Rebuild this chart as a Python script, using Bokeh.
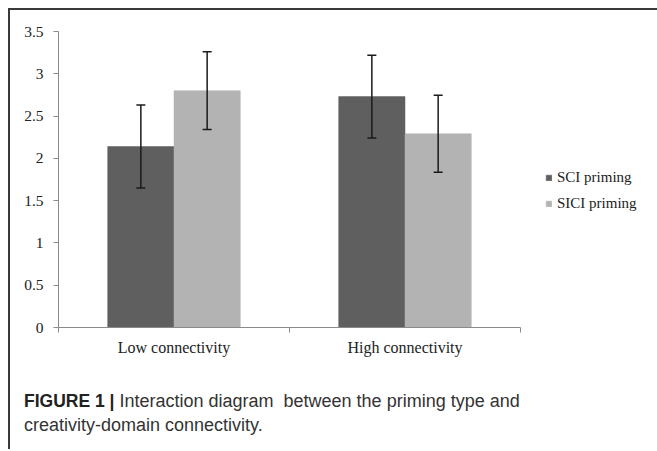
from bokeh.plotting import figure
from bokeh.models import (Range1d, FixedTicker, Whisker, TeeHead, ColumnDataSource,
                          Legend, LegendItem, Div)
from bokeh.layouts import column
from bokeh.embed import file_html
from bokeh.resources import INLINE

categories = ["Low connectivity", "High connectivity"]
series = ["SCI priming", "SICI priming"]
sci_mean = [2.14, 2.73]
sci_err = [0.49, 0.49]
sici_mean = [2.80, 2.29]
sici_err = [0.46, 0.455]
y_ticks = [0, 0.5, 1, 1.5, 2, 2.5, 3, 3.5]
y_tick_labels = ["0", "0.5", "1", "1.5", "2", "2.5", "3", "3.5"]
colors = ["#5f5f5f", "#b3b3b3"]
caption_bold = "FIGURE 1 |"
caption_line1 = "Interaction diagram&nbsp; between the priming type and"
caption_line2 = "creativity-domain connectivity."

FW, FH = 462, 296
p = figure(frame_width=FW, frame_height=FH, output_backend="svg", toolbar_location=None,
           x_range=Range1d(0, len(categories)), y_range=Range1d(0, 3.5),
           min_border_left=48, min_border_top=21, min_border_bottom=62,
           min_border_right=137)
p.outline_line_color = None
p.grid.visible = False
p.background_fill_color = "white"
p.border_fill_color = "white"

bw = 0.287
off = bw / 2
centers = list(range(len(categories)))
renderers = []
for s, (means, errs, dx) in enumerate([(sci_mean, sci_err, -off), (sici_mean, sici_err, off)]):
    xs = [c + 0.5 + dx for c in centers]
    src = ColumnDataSource(dict(x=xs, top=means,
                                upper=[m + e for m, e in zip(means, errs)],
                                lower=[m - e for m, e in zip(means, errs)]))
    r = p.vbar(x="x", top="top", bottom=0, width=bw, source=src,
               fill_color=colors[s], line_color=colors[s], line_width=0.5)
    renderers.append(r)
    wh = Whisker(source=src, base="x", upper="upper", lower="lower",
                 line_color="#1a1a1a", line_width=1.5, level="overlay",
                 upper_head=TeeHead(size=9, line_color="#1a1a1a", line_width=1.5),
                 lower_head=TeeHead(size=9, line_color="#1a1a1a", line_width=1.5))
    p.add_layout(wh)

ax_color = "#8a8a8a"
serif = "Liberation Serif"
p.yaxis.ticker = FixedTicker(ticks=y_ticks)
p.yaxis.major_label_overrides = {t: l for t, l in zip(y_ticks, y_tick_labels)}
p.yaxis.axis_line_color = ax_color
p.yaxis.major_tick_line_color = ax_color
p.yaxis.major_tick_out = 5
p.yaxis.major_tick_in = 0
p.yaxis.minor_tick_line_color = None
p.yaxis.major_label_text_font = serif
p.yaxis.major_label_text_font_size = "15.5px"
p.yaxis.major_label_text_color = "#222222"
p.yaxis.major_label_standoff = 10

p.xaxis.ticker = FixedTicker(ticks=[c + 0.5 for c in centers],
                             minor_ticks=list(range(len(categories) + 1)))
p.xaxis.major_label_overrides = {c + 0.5: cat for c, cat in zip(centers, categories)}
p.xaxis.axis_line_color = ax_color
p.xaxis.major_tick_line_color = None
p.xaxis.major_tick_out = 0
p.xaxis.major_tick_in = 0
p.xaxis.minor_tick_line_color = ax_color
p.xaxis.minor_tick_out = 5
p.xaxis.minor_tick_in = 0
p.xaxis.major_label_text_font = serif
p.xaxis.major_label_text_font_size = "16px"
p.xaxis.major_label_text_color = "#222222"
p.xaxis.major_label_standoff = 6

legend = Legend(items=[LegendItem(label=series[i], renderers=[renderers[i]]) for i in range(2)],
                location=(25, 115), orientation="vertical")
legend.label_text_font = serif
legend.label_text_font_size = "15px"
legend.label_text_color = "#222222"
legend.glyph_width = 7
legend.glyph_height = 7
legend.label_height = 16
legend.label_standoff = 5
legend.spacing = 9
legend.padding = 0
legend.margin = 0
legend.border_line_color = None
legend.background_fill_alpha = 0
p.add_layout(legend, "right")

caption = Div(
    text=('<div style="font-family: \'Liberation Sans\', Arial, sans-serif; font-size: 18px; '
          'line-height: 24px; color: #333; padding-left: 14px; white-space: nowrap;">'
          f'<b style="color:#222; font-size:17.5px">{caption_bold}</b> {caption_line1}<br>'
          f'{caption_line2}</div>'),
    width=FW + 48 + 137, height=60, margin=(0, 0, 0, 0))

layout = column(p, caption, spacing=0)
layout.styles = {"margin-left": "8px", "margin-top": "8px",
                 "border-top": "2px solid #3a3a3a", "border-left": "2px solid #3a3a3a"}

open("out.html", "w").write(file_html(layout, INLINE))
